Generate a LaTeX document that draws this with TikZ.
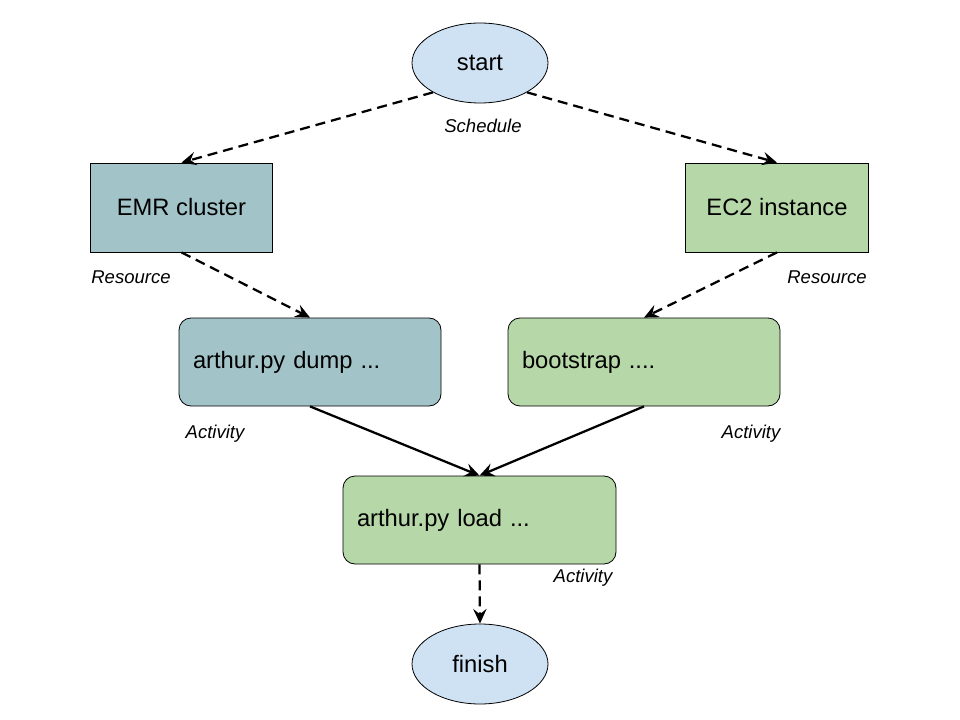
\documentclass[tikz,border=0pt]{standalone}
\usepackage{fontspec}
\setmainfont{Liberation Sans}
\usetikzlibrary{arrows.meta,shapes.geometric}
\definecolor{evblue}{HTML}{CFE2F3}
\definecolor{emrteal}{HTML}{A2C4C9}
\definecolor{ectgreen}{HTML}{B6D7A8}
\begin{document}
\begin{tikzpicture}[x=0.75pt,y=-0.75pt,font=\fontsize{17.8}{21}\selectfont,
	event/.style={ellipse,draw,line width=0.6pt,fill=evblue,minimum width=102pt,minimum height=60pt,inner sep=0pt},
	resbox/.style={rectangle,draw,line width=0.6pt,minimum width=137pt,minimum height=66.75pt},
	actbox/.style={rectangle,rounded corners=9pt,draw,line width=0.6pt,minimum height=66pt,inner xsep=10.5pt,align=left},
	tag/.style={font=\fontsize{13.9}{16}\selectfont\itshape},
	flow/.style={line width=1.7pt,-{Stealth[length=11pt,width=10pt,inset=4pt]}},
	dflow/.style={flow,dash pattern=on 7.5pt off 4.5pt}]
	\useasboundingbox (0,0) rectangle (960,720);
	\node[event] (start) at (480,63) {start};
	\node[event] (finish) at (480,664) {finish};
	\node[resbox,fill=emrteal] (emr) at (181.5,207.5) {EMR cluster};
	\node[resbox,fill=ectgreen] (ec2) at (777,207.5) {EC2 instance};
	\node[actbox,fill=emrteal,text width=175.5pt] (dump) at (310,362) {arthur.py dump ...};
	\node[actbox,fill=ectgreen,text width=183pt] (boot) at (644,362) {bootstrap ....};
	\node[actbox,fill=ectgreen,text width=183.75pt] (load) at (479.5,520) {arthur.py load ...};
	% labels under the shapes
	\foreach \n/\p/\t in {sched/{(483,126)}/Schedule, resl/{(131,277)}/Resource, resr/{(827,277)}/Resource,
		actl/{(215,434)}/Activity, actr/{(751,434)}/Activity, actm/{(583,578)}/Activity}{
		\node[tag] (\n) at \p {\t};
	}
	\draw[dflow] (start.212)--(emr.north);
	\draw[dflow] (start.328)--(ec2.north);
	\draw[dflow] (emr.south)--(dump.north);
	\draw[dflow] (ec2.south)--(boot.north);
	\draw[flow] (dump.south)--(load.north);
	\draw[flow] (boot.south)--(load.north);
	\draw[dflow] (load.south)--(finish.north);
\end{tikzpicture}
\end{document}
